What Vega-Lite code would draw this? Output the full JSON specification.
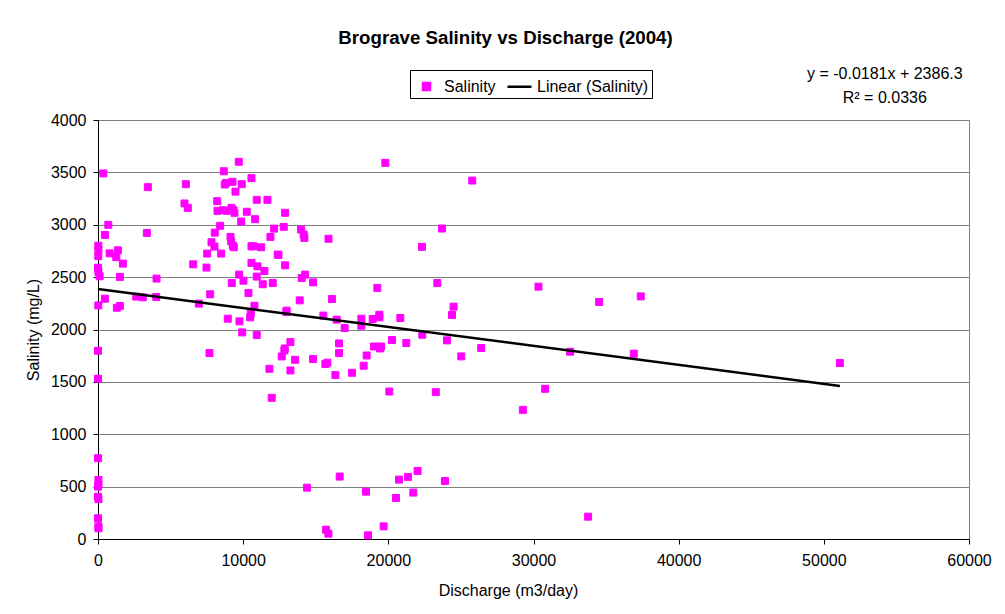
{
  "$schema": "https://vega.github.io/schema/vega-lite/v6.json",
  "width": 871,
  "height": 419,
  "autosize": {"type": "none"},
  "padding": {"left": 98, "top": 120, "right": 36, "bottom": 75},
  "background": "white",
  "config": {
    "font": "Liberation Sans",
    "view": {"stroke": "#808080", "strokeWidth": 1},
    "axis": {"labelFont": "Liberation Sans", "titleFont": "Liberation Sans", "labelColor": "black", "titleColor": "black", "labelFontSize": 16, "titleFontSize": 16, "titleFontWeight": "normal", "domainColor": "black", "tickColor": "black", "tickSize": 5},
    "legend": {"symbolStrokeWidth": 2.5, "labelFont": "Liberation Sans", "labelColor": "black"}
  },
  "title": {
    "text": "Brograve Salinity vs Discharge (2004)",
    "font": "Liberation Sans",
    "fontSize": 18.7,
    "fontWeight": "bold",
    "color": "black",
    "anchor": "middle",
    "dx": -28,
    "offset": 18
  },
  "datasets": {
    "obs": [
      {"discharge": 365, "salinity": 3490}, {"discharge": 710, "salinity": 2999}, {"discharge": 475, "salinity": 2903},
      {"discharge": 20, "salinity": 2800}, {"discharge": 30, "salinity": 2760}, {"discharge": 20, "salinity": 2700},
      {"discharge": 0, "salinity": 2590}, {"discharge": 30, "salinity": 2550}, {"discharge": 110, "salinity": 2508},
      {"discharge": 800, "salinity": 2727}, {"discharge": 1370, "salinity": 2756}, {"discharge": 1260, "salinity": 2690},
      {"discharge": 1715, "salinity": 2629}, {"discharge": 1510, "salinity": 2502}, {"discharge": 475, "salinity": 2294},
      {"discharge": 20, "salinity": 2230}, {"discharge": 1300, "salinity": 2208}, {"discharge": 1510, "salinity": 2225},
      {"discharge": 3434, "salinity": 3359}, {"discharge": 3365, "salinity": 2922}, {"discharge": 4033, "salinity": 2486},
      {"discharge": 4012, "salinity": 2311}, {"discharge": 2636, "salinity": 2314}, {"discharge": 3090, "salinity": 2307},
      {"discharge": 5960, "salinity": 3203}, {"discharge": 6187, "salinity": 3161}, {"discharge": 6050, "salinity": 3387},
      {"discharge": 6558, "salinity": 2622}, {"discharge": 6944, "salinity": 2247}, {"discharge": 7474, "salinity": 2591},
      {"discharge": 7520, "salinity": 2725}, {"discharge": 7727, "salinity": 2336}, {"discharge": 7818, "salinity": 2833},
      {"discharge": 8024, "salinity": 2792}, {"discharge": 8045, "salinity": 2925}, {"discharge": 8210, "salinity": 3225},
      {"discharge": 8231, "salinity": 3133}, {"discharge": 8596, "salinity": 3139}, {"discharge": 8850, "salinity": 3133},
      {"discharge": 8417, "salinity": 2990}, {"discharge": 8485, "salinity": 2725}, {"discharge": 8665, "salinity": 3511},
      {"discharge": 8734, "salinity": 3384}, {"discharge": 8830, "salinity": 3400}, {"discharge": 9263, "salinity": 3410},
      {"discharge": 9903, "salinity": 3387}, {"discharge": 9697, "salinity": 3601}, {"discharge": 10571, "salinity": 3445},
      {"discharge": 9470, "salinity": 3316}, {"discharge": 9194, "salinity": 3161}, {"discharge": 9332, "salinity": 3139},
      {"discharge": 9401, "salinity": 3114}, {"discharge": 10247, "salinity": 3124}, {"discharge": 9862, "salinity": 3031},
      {"discharge": 10825, "salinity": 3053}, {"discharge": 10936, "salinity": 3238}, {"discharge": 11672, "salinity": 3238},
      {"discharge": 9126, "salinity": 2884}, {"discharge": 9173, "salinity": 2842}, {"discharge": 9284, "salinity": 2801},
      {"discharge": 9353, "salinity": 2785}, {"discharge": 9724, "salinity": 2524}, {"discharge": 10020, "salinity": 2466},
      {"discharge": 9215, "salinity": 2444}, {"discharge": 10571, "salinity": 2794}, {"discharge": 10730, "salinity": 2794},
      {"discharge": 11238, "salinity": 2785}, {"discharge": 10571, "salinity": 2636}, {"discharge": 10984, "salinity": 2603},
      {"discharge": 11466, "salinity": 2559}, {"discharge": 10936, "salinity": 2505}, {"discharge": 11348, "salinity": 2432},
      {"discharge": 12037, "salinity": 2444}, {"discharge": 12133, "salinity": 2963}, {"discharge": 11878, "salinity": 2884},
      {"discharge": 12381, "salinity": 2715}, {"discharge": 10365, "salinity": 2349}, {"discharge": 9931, "salinity": 1972},
      {"discharge": 10936, "salinity": 1947}, {"discharge": 8940, "salinity": 2103}, {"discharge": 9745, "salinity": 2078},
      {"discharge": 10481, "salinity": 2116}, {"discharge": 10523, "salinity": 2151}, {"discharge": 10777, "salinity": 2227},
      {"discharge": 12890, "salinity": 3114}, {"discharge": 12794, "salinity": 2980}, {"discharge": 13990, "salinity": 2954},
      {"discharge": 14170, "salinity": 2906}, {"discharge": 14218, "salinity": 2875}, {"discharge": 15880, "salinity": 2866},
      {"discharge": 12429, "salinity": 2712}, {"discharge": 12890, "salinity": 2613}, {"discharge": 14032, "salinity": 2492},
      {"discharge": 14266, "salinity": 2524}, {"discharge": 14817, "salinity": 2450}, {"discharge": 13895, "salinity": 2278},
      {"discharge": 12980, "salinity": 2167}, {"discharge": 12990, "salinity": 2180}, {"discharge": 15526, "salinity": 2133},
      {"discharge": 13255, "salinity": 1880}, {"discharge": 12863, "salinity": 1819}, {"discharge": 16124, "salinity": 2291},
      {"discharge": 16441, "salinity": 2094}, {"discharge": 16991, "salinity": 2014}, {"discharge": 18141, "salinity": 2103},
      {"discharge": 18141, "salinity": 2036}, {"discharge": 18919, "salinity": 2100}, {"discharge": 19380, "salinity": 2141},
      {"discharge": 19380, "salinity": 2116}, {"discharge": 19243, "salinity": 2397}, {"discharge": 20825, "salinity": 2110},
      {"discharge": 22339, "salinity": 1950}, {"discharge": 23372, "salinity": 2444}, {"discharge": 12842, "salinity": 1800},
      {"discharge": 12657, "salinity": 1743}, {"discharge": 13578, "salinity": 1711}, {"discharge": 11810, "salinity": 1625},
      {"discharge": 13255, "salinity": 1609}, {"discharge": 14817, "salinity": 1718}, {"discharge": 15663, "salinity": 1670},
      {"discharge": 15801, "salinity": 1683}, {"discharge": 16606, "salinity": 1867}, {"discharge": 16606, "salinity": 1775},
      {"discharge": 16352, "salinity": 1565}, {"discharge": 17500, "salinity": 1587}, {"discharge": 18300, "salinity": 1654},
      {"discharge": 18506, "salinity": 1752}, {"discharge": 19015, "salinity": 1838}, {"discharge": 19428, "salinity": 1819},
      {"discharge": 19497, "salinity": 1838}, {"discharge": 20253, "salinity": 1900}, {"discharge": 21238, "salinity": 1871},
      {"discharge": 11968, "salinity": 1348}, {"discharge": 20068, "salinity": 1408}, {"discharge": 23270, "salinity": 1402},
      {"discharge": 19792, "salinity": 3591}, {"discharge": 25780, "salinity": 3422}, {"discharge": 23695, "salinity": 2964},
      {"discharge": 22318, "salinity": 2789}, {"discharge": 30343, "salinity": 2409}, {"discharge": 34520, "salinity": 2263},
      {"discharge": 24493, "salinity": 2218}, {"discharge": 24383, "salinity": 2139}, {"discharge": 24039, "salinity": 1896},
      {"discharge": 26400, "salinity": 1823}, {"discharge": 25023, "salinity": 1743}, {"discharge": 32524, "salinity": 1788},
      {"discharge": 36908, "salinity": 1769}, {"discharge": 30804, "salinity": 1434}, {"discharge": 29269, "salinity": 1233},
      {"discharge": 37390, "salinity": 2316}, {"discharge": 51105, "salinity": 1680}, {"discharge": 33763, "salinity": 213},
      {"discharge": 14404, "salinity": 490}, {"discharge": 16647, "salinity": 596}, {"discharge": 18465, "salinity": 452},
      {"discharge": 20529, "salinity": 392}, {"discharge": 20736, "salinity": 567}, {"discharge": 21355, "salinity": 593},
      {"discharge": 22015, "salinity": 650}, {"discharge": 21720, "salinity": 443}, {"discharge": 23901, "salinity": 554},
      {"discharge": 15712, "salinity": 89}, {"discharge": 15870, "salinity": 51}, {"discharge": 18602, "salinity": 35},
      {"discharge": 19676, "salinity": 121}, {"discharge": 0, "salinity": 1797}, {"discharge": 0, "salinity": 1530},
      {"discharge": 7680, "salinity": 1775}, {"discharge": 0, "salinity": 771}, {"discharge": 30, "salinity": 564},
      {"discharge": 30, "salinity": 516}, {"discharge": 0, "salinity": 500}, {"discharge": 0, "salinity": 404},
      {"discharge": 30, "salinity": 380}, {"discharge": 0, "salinity": 198}, {"discharge": 30, "salinity": 121},
      {"discharge": 30, "salinity": 102}
    ],
    "trend": [
      {"discharge": 0, "salinity": 2386.3},
      {"discharge": 51105, "salinity": 1461.3}
    ],
    "eq": [
      {"discharge": 54200, "salinity": 4439, "label": "y = -0.0181x + 2386.3"},
      {"discharge": 54200, "salinity": 4210, "label": "R² = 0.0336"}
    ]
  },
  "encoding": {
    "x": {
      "field": "discharge", "type": "quantitative",
      "scale": {"domain": [0, 60000], "nice": false, "zero": true},
      "axis": {"title": "Discharge (m3/day)", "values": [0, 10000, 20000, 30000, 40000, 50000, 60000], "format": "d", "grid": false, "labelPadding": 8, "titlePadding": 14, "titleX": 410, "labelFlush": false}
    },
    "y": {
      "field": "salinity", "type": "quantitative",
      "scale": {"domain": [0, 4000], "nice": false},
      "axis": {"title": "Salinity (mg/L)", "values": [0, 500, 1000, 1500, 2000, 2500, 3000, 3500, 4000], "format": "d", "grid": true, "gridColor": "#808080", "gridOpacity": 1, "gridWidth": 1, "labelPadding": 7, "titlePadding": 9}
    }
  },
  "layer": [
    {
      "data": {"name": "obs"},
      "mark": {"type": "point", "filled": true, "opacity": 1, "strokeWidth": 1, "size": 576},
      "encoding": {
        "color": {
          "datum": "Salinity", "type": "nominal",
          "scale": {"domain": ["Salinity", "Linear (Salinity)"], "range": ["#FF00FF", "#000000"]},
          "legend": {"title": null, "orient": "none", "legendX": 312, "legendY": -50, "direction": "horizontal", "strokeColor": "black", "fillColor": "white", "padding": 3, "labelFontSize": 16, "labelOffset": 4, "columnPadding": 6, "symbolSize": 576, "symbolStrokeWidth": 2.5}
        },
        "stroke": {
          "datum": "Salinity", "type": "nominal",
          "scale": {"domain": ["Salinity", "Linear (Salinity)"], "range": ["#FF00FF", "#000000"]},
          "legend": {"title": null, "orient": "none", "legendX": 312, "legendY": -50, "direction": "horizontal", "strokeColor": "black", "fillColor": "white", "padding": 3, "labelFontSize": 16, "labelOffset": 4, "columnPadding": 6, "symbolSize": 576, "symbolStrokeWidth": 2.5}
        },
        "shape": {
          "datum": "Salinity", "type": "nominal",
          "scale": {"domain": ["Salinity", "Linear (Salinity)"], "range": ["M-0.29,-0.29H0.29V0.29H-0.29Z", "stroke"]},
          "legend": {"title": null, "orient": "none", "legendX": 312, "legendY": -50, "direction": "horizontal", "strokeColor": "black", "fillColor": "white", "padding": 3, "labelFontSize": 16, "labelOffset": 4, "columnPadding": 6, "symbolSize": 576, "symbolStrokeWidth": 2.5}
        }
      }
    },
    {
      "data": {"name": "trend"},
      "mark": {"type": "line", "strokeWidth": 2.5, "color": "black"},
      "encoding": {}
    },
    {
      "data": {"name": "eq"},
      "mark": {"type": "text", "font": "Liberation Sans", "fontSize": 16, "align": "center", "baseline": "middle", "color": "black"},
      "encoding": {
        "text": {"field": "label"}
      }
    }
  ]
}
